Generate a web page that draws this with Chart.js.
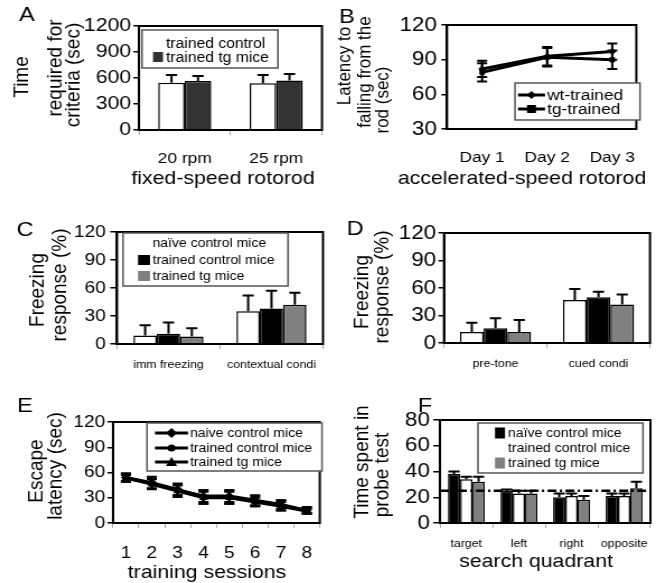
<!DOCTYPE html>
<html>
<head>
<meta charset="utf-8">
<script src="https://cdn.jsdelivr.net/npm/chart.js@4.4.0/dist/chart.umd.min.js"></script>
<style>
  html, body { margin: 0; padding: 0; background: #fff; }
  #fig { position: relative; width: 658px; height: 583px; overflow: hidden; }
  .pn { position: absolute; transform-origin: 0 0; }
  .pn canvas { display: block; }
</style>
</head>
<body>
<div id="fig">
  <div class="pn" id="pA"><canvas></canvas></div>
  <div class="pn" id="pB"><canvas></canvas></div>
  <div class="pn" id="pC"><canvas></canvas></div>
  <div class="pn" id="pD"><canvas></canvas></div>
  <div class="pn" id="pE"><canvas></canvas></div>
  <div class="pn" id="pF"><canvas></canvas></div>
</div>
<script>
// ---- data ----
// A: fixed-speed rotorod
const speeds = ['20 rpm', '25 rpm'];
const fixedControl = [545, 540];
const fixedControlErr = [90, 95];
const fixedTg = [565, 570];
const fixedTgErr = [58, 76];

// B: accelerated-speed rotorod
const days = ['Day 1', 'Day 2', 'Day 3'];
const dayPos = [1, 2, 3];
const accelWt = [82, 93, 97];
const accelWtErr = [7, 8, 7];
const accelTg = [79, 92, 90];
const accelTgErr = [8, 8, 8];

// C: contextual conditioning
const contextCats = ['imm freezing', 'contextual condi'];
const ctxNaive = [9, 35];
const ctxNaiveErr = [11, 17];
const ctxTrained = [11, 38];
const ctxTrainedErr = [12, 19];
const ctxTg = [8, 42];
const ctxTgErr = [9, 13];

// D: cued conditioning
const cuedCats = ['pre-tone', 'cued condi'];
const cuedNaive = [12, 47];
const cuedNaiveErr = [10, 12];
const cuedTrained = [16, 50];
const cuedTrainedErr = [11, 6];
const cuedTg = [12, 42];
const cuedTgErr = [13, 11];

// E: escape latency
const sessions = ['1', '2', '3', '4', '5', '6', '7', '8'];
const escNaive = [54, 48, 40, 31, 31, 26, 21, 15];
const escNaiveErr = [5, 7, 7, 8, 8, 6, 6, 4];
const escTrained = [53, 47, 39, 32, 32, 27, 22, 15];
const escTrainedErr = [4, 6, 6, 7, 7, 6, 5, 3];
const escTg = [54, 46, 38, 30, 30, 25, 20, 14];
const escTgErr = [4, 6, 7, 7, 7, 5, 5, 3];

// F: probe test
const quadrants = ['target', 'left', 'right', 'opposite'];
const probeNaive = [38, 25, 20, 21];
const probeNaiveErr = [2, 1, 3, 2];
const probeTrained = [34, 23, 21, 21];
const probeTrainedErr = [2, 2, 2, 2];
const probeTg = [32, 23, 18, 27];
const probeTgErr = [4, 2, 3, 5];
const chanceLevel = 25;

// ---- setup ----
const FONT = "'Liberation Sans', Arial, Helvetica, sans-serif";
const INK = '#000';
const S = 1.12; // the figure is a bit stretched sideways
Chart.defaults.font.family = FONT;
Chart.defaults.color = INK;
Chart.defaults.animation = false;
Chart.defaults.plugins.legend.display = false;
Chart.defaults.plugins.tooltip.enabled = false;

function marker(ctx, style, x, y, r) {
  ctx.beginPath();
  if (style === 'rect') {
    ctx.rect(x - r, y - r, 2 * r, 2 * r);
  } else if (style === 'rectRot') {
    ctx.moveTo(x, y - r); ctx.lineTo(x + r, y); ctx.lineTo(x, y + r); ctx.lineTo(x - r, y);
    ctx.closePath();
  } else if (style === 'triangle') {
    ctx.moveTo(x, y - r); ctx.lineTo(x + r, y + r * 0.8); ctx.lineTo(x - r, y + r * 0.8);
    ctx.closePath();
  } else {
    ctx.arc(x, y, r, 0, Math.PI * 2);
  }
  ctx.fill();
}

// error bars, frame, boxed legend and loose text
const figExtras = {
  id: 'figExtras',
  afterDatasetsDraw(chart, args, opts) {
    const ctx = chart.ctx;
    const ys = chart.scales.y;
    const area = chart.chartArea;
    if (opts.refLine != null) {
      const py = ys.getPixelForValue(opts.refLine);
      ctx.save();
      ctx.strokeStyle = '#000';
      ctx.lineWidth = 2.5;
      ctx.setLineDash([8, 3, 2, 3]);
      ctx.beginPath(); ctx.moveTo(area.left, py); ctx.lineTo(area.right, py); ctx.stroke();
      ctx.restore();
    }
    chart.data.datasets.forEach((ds, di) => {
      if (!ds.errors) return;
      const meta = chart.getDatasetMeta(di);
      const cap = ds.capWidth || 10;
      ctx.save();
      ctx.strokeStyle = '#000';
      ctx.lineWidth = 2;
      meta.data.forEach((el, i) => {
        const d = ds.data[i];
        const v = typeof d === 'object' ? d.y : d;
        const e = ds.errors[i];
        const top = ys.getPixelForValue(v + e);
        const bot = ds.errorBoth ? ys.getPixelForValue(v - e) : el.y;
        ctx.beginPath();
        ctx.moveTo(el.x, bot); ctx.lineTo(el.x, top);
        ctx.moveTo(el.x - cap / 2, top); ctx.lineTo(el.x + cap / 2, top);
        if (ds.errorBoth) { ctx.moveTo(el.x - cap / 2, bot); ctx.lineTo(el.x + cap / 2, bot); }
        ctx.stroke();
      });
      ctx.restore();
    });
  },
  afterDraw(chart, args, opts) {
    const ctx = chart.ctx;
    const a = chart.chartArea;
    const bx = opts.box;
    const X = v => (v - bx.x) / S;
    const Y = v => v - bx.y;
    ctx.save();
    ctx.strokeStyle = '#000';
    ctx.lineWidth = 2;
    ctx.strokeRect(a.left, a.top, a.right - a.left, a.bottom - a.top);
    const lg = opts.legend;
    if (lg) {
      ctx.fillStyle = '#fff';
      ctx.fillRect(X(lg.box[0]), Y(lg.box[1]), lg.box[2] / S, lg.box[3]);
      ctx.strokeStyle = '#555';
      ctx.lineWidth = 1.5;
      ctx.strokeRect(X(lg.box[0]), Y(lg.box[1]), lg.box[2] / S, lg.box[3]);
      ctx.font = lg.size + 'px ' + FONT;
      ctx.textBaseline = 'middle';
      ctx.textAlign = 'left';
      chart.data.datasets.forEach((ds, i) => {
        const ry = Y(lg.rows[i]);
        if (lg.kind === 'line') {
          ctx.strokeStyle = '#000';
          ctx.lineWidth = 3;
          ctx.beginPath(); ctx.moveTo(X(lg.x1), ry); ctx.lineTo(X(lg.x2), ry); ctx.stroke();
          ctx.fillStyle = '#000';
          marker(ctx, ds.pointStyle, (X(lg.x1) + X(lg.x2)) / 2, ry, ds.pointRadius + 0.5);
        } else {
          ctx.fillStyle = ds.backgroundColor;
          ctx.fillRect(X(lg.sx), ry - lg.sh / 2, lg.sw / S, lg.sh);
        }
        ctx.fillStyle = INK;
        ctx.fillText(ds.label, X(lg.tx), ry + 1);
      });
    }
    (opts.texts || []).forEach(t => {
      ctx.save();
      ctx.font = t.size + 'px ' + FONT;
      ctx.fillStyle = INK;
      ctx.textAlign = 'center';
      ctx.textBaseline = 'middle';
      ctx.translate(X(t.x), Y(t.y));
      if (t.rot) ctx.rotate(-Math.PI / 2);
      ctx.fillText(t.text, 0, 0);
      ctx.restore();
    });
    ctx.restore();
  }
};

function place(id, box) {
  const wrap = document.getElementById(id);
  wrap.style.left = box.x + 'px';
  wrap.style.top = box.y + 'px';
  wrap.style.transform = 'scaleX(' + S + ')';
  const c = wrap.querySelector('canvas');
  c.width = Math.round(box.w / S);
  c.height = box.h;
  return c;
}

function layoutFor(box, plot) {
  const w = Math.round(box.w / S);
  return { padding: { left: 0, bottom: 0, top: plot.t - box.y, right: w - (plot.r - box.x) / S } };
}

function yAxis(min, max, step, box, plot, tl, pad, size) {
  return {
    min: min, max: max,
    ticks: { stepSize: step, autoSkip: false, font: { size: size }, padding: pad, color: INK, callback: v => String(v) },
    grid: { drawOnChartArea: false, drawTicks: true, tickLength: tl, color: '#000', lineWidth: 1.5 },
    border: { color: '#000', width: 2 },
    afterFit: s => { s.width = (plot.l - box.x) / S; }
  };
}

function xCat(box, plot, size, pad) {
  return {
    offset: true,
    ticks: { font: { size: size }, padding: pad, color: INK, maxRotation: 0, autoSkip: false },
    grid: { offset: true, drawOnChartArea: false, tickLength: 5, color: '#aaa', lineWidth: 1 },
    border: { color: '#000', width: 2 },
    afterFit: s => { s.height = box.y + box.h - plot.b; }
  };
}

function bar(label, data, errors, color, catPct) {
  return {
    label: label, data: data, errors: errors,
    backgroundColor: color, borderColor: '#000', borderWidth: 1.5,
    categoryPercentage: catPct, barPercentage: 1, capWidth: 10
  };
}

function line(label, data, errors, style, r) {
  return {
    label: label, data: data, errors: errors, errorBoth: true, capWidth: 9,
    borderColor: '#000', borderWidth: 3, backgroundColor: '#000',
    pointStyle: style, pointRadius: r, pointBorderWidth: 0, pointBackgroundColor: '#000',
    tension: 0
  };
}

// ---- A ----
const boxA = { x: 0, y: 0, w: 329, h: 195 };
const plotA = { l: 139, t: 26, r: 322, b: 130 };
new Chart(place('pA', boxA), {
  type: 'bar',
  data: {
    labels: speeds,
    datasets: [
      bar('trained control', fixedControl, fixedControlErr, '#fff', 0.58),
      bar('trained tg mice', fixedTg, fixedTgErr, '#333', 0.58)
    ]
  },
  options: {
    responsive: false,
    layout: layoutFor(boxA, plotA),
    scales: {
      x: xCat(boxA, plotA, 15.5, 14),
      y: yAxis(0, 1200, 300, boxA, plotA, 5, 2, 19)
    },
    plugins: {
      figExtras: {
        box: boxA,
        legend: { kind: 'bar', box: [142, 30, 136, 38], rows: [43, 57], sx: 153, sw: 10, sh: 10, tx: 166, size: 14 },
        texts: [
          { text: 'A', x: 27, y: 15, size: 21 },
          { text: 'Time', x: 22, y: 77, size: 19, rot: true },
          { text: 'required for', x: 56, y: 68, size: 19, rot: true },
          { text: 'criteria (sec)', x: 74, y: 75, size: 19, rot: true },
          { text: 'fixed-speed rotorod', x: 223, y: 179, size: 19 }
        ]
      }
    }
  },
  plugins: [figExtras]
});

// ---- B ----
const boxB = { x: 329, y: 0, w: 329, h: 195 };
const plotB = { l: 447, t: 25, r: 642, b: 129 };
new Chart(place('pB', boxB), {
  type: 'line',
  data: {
    datasets: [
      line('wt-trained', dayPos.map((d, i) => ({ x: d, y: accelWt[i] })), accelWtErr, 'rectRot', 3.5),
      line('tg-trained', dayPos.map((d, i) => ({ x: d, y: accelTg[i] })), accelTgErr, 'rect', 3.5)
    ]
  },
  options: {
    responsive: false,
    layout: layoutFor(boxB, plotB),
    scales: {
      x: {
        type: 'linear', min: 0.46, max: 3.37,
        afterBuildTicks: s => { s.ticks = dayPos.map(v => ({ value: v })); },
        ticks: { font: { size: 15.5 }, padding: 19, color: INK, callback: v => days[dayPos.indexOf(v)] },
        grid: { drawOnChartArea: false, drawTicks: false },
        border: { color: '#000', width: 2 },
        afterFit: s => { s.height = boxB.y + boxB.h - plotB.b; }
      },
      y: yAxis(30, 120, 30, boxB, plotB, 5, 4, 20)
    },
    plugins: {
      figExtras: {
        box: boxB,
        legend: { kind: 'line', box: [515, 83, 125, 37], rows: [95, 109], x1: 518, x2: 545, tx: 547, size: 15.5 },
        texts: [
          { text: 'B', x: 347, y: 17, size: 21 },
          { text: 'Latency to', x: 345, y: 66, size: 17, rot: true },
          { text: 'falling from the', x: 365, y: 72, size: 17, rot: true },
          { text: 'rod (sec)', x: 383, y: 100, size: 17, rot: true },
          { text: 'accelerated-speed rotorod', x: 522, y: 179, size: 19 }
        ]
      }
    }
  },
  plugins: [figExtras]
});

// ---- C ----
const boxC = { x: 0, y: 195, w: 329, h: 188 };
const plotC = { l: 117, t: 232, r: 323, b: 344 };
new Chart(place('pC', boxC), {
  type: 'bar',
  data: {
    labels: contextCats,
    datasets: [
      bar('naïve control mice', ctxNaive, ctxNaiveErr, '#fff', 0.68),
      bar('trained control mice', ctxTrained, ctxTrainedErr, '#000', 0.68),
      bar('trained tg mice', ctxTg, ctxTgErr, '#808080', 0.68)
    ]
  },
  options: {
    responsive: false,
    layout: layoutFor(boxC, plotC),
    scales: {
      x: xCat(boxC, plotC, 11, 9),
      y: yAxis(0, 120, 30, boxC, plotC, 6, 4, 17)
    },
    plugins: {
      figExtras: {
        box: boxC,
        legend: { kind: 'bar', box: [123, 233, 165, 53], rows: [243, 260, 276], sx: 138, sw: 12, sh: 10, tx: 152.5, size: 12.5 },
        texts: [
          { text: 'C', x: 25, y: 230, size: 21 },
          { text: 'Freezing', x: 38, y: 290, size: 19, rot: true },
          { text: 'response (%)', x: 60, y: 285, size: 19, rot: true }
        ]
      }
    }
  },
  plugins: [figExtras]
});

// ---- D ----
const boxD = { x: 329, y: 195, w: 329, h: 188 };
const plotD = { l: 444, t: 233, r: 650, b: 343 };
new Chart(place('pD', boxD), {
  type: 'bar',
  data: {
    labels: cuedCats,
    datasets: [
      bar('naïve control mice', cuedNaive, cuedNaiveErr, '#fff', 0.69),
      bar('trained control mice', cuedTrained, cuedTrainedErr, '#000', 0.69),
      bar('trained tg mice', cuedTg, cuedTgErr, '#808080', 0.69)
    ]
  },
  options: {
    responsive: false,
    layout: layoutFor(boxD, plotD),
    scales: {
      x: xCat(boxD, plotD, 11, 9),
      y: yAxis(0, 120, 30, boxD, plotD, 5, 2, 20)
    },
    plugins: {
      figExtras: {
        box: boxD,
        texts: [
          { text: 'D', x: 355, y: 229, size: 21 },
          { text: 'Freezing', x: 362, y: 292, size: 19, rot: true },
          { text: 'response (%)', x: 382, y: 287, size: 19, rot: true }
        ]
      }
    }
  },
  plugins: [figExtras]
});

// ---- E ----
const boxE = { x: 0, y: 383, w: 329, h: 200 };
const plotE = { l: 113, t: 422, r: 327, b: 523 };
new Chart(place('pE', boxE), {
  type: 'line',
  data: {
    labels: sessions,
    datasets: [
      line('naive control mice', escNaive, escNaiveErr, 'rectRot', 4.5),
      line('trained control mice', escTrained, escTrainedErr, 'circle', 3),
      line('trained tg mice', escTg, escTgErr, 'triangle', 4.5)
    ]
  },
  options: {
    responsive: false,
    layout: layoutFor(boxE, plotE),
    scales: {
      x: xCat(boxE, plotE, 17, 15),
      y: yAxis(0, 120, 30, boxE, plotE, 5, 2, 17)
    },
    plugins: {
      figExtras: {
        box: boxE,
        legend: { kind: 'line', box: [147, 423, 175, 48], rows: [433, 448, 462], x1: 155, x2: 188, tx: 190, size: 12.5 },
        texts: [
          { text: 'E', x: 25, y: 406, size: 21 },
          { text: 'Escape', x: 37, y: 471, size: 19, rot: true },
          { text: 'latency (sec)', x: 56, y: 466, size: 19, rot: true },
          { text: 'training sessions', x: 207, y: 573, size: 19 }
        ]
      }
    }
  },
  plugins: [figExtras]
});

// ---- F ----
const boxF = { x: 329, y: 383, w: 329, h: 200 };
const plotF = { l: 440, t: 420, r: 652, b: 523 };
new Chart(place('pF', boxF), {
  type: 'bar',
  data: {
    labels: quadrants,
    datasets: [
      bar('naïve control mice', probeNaive, probeNaiveErr, '#000', 0.7),
      bar('trained control mice', probeTrained, probeTrainedErr, '#fff', 0.7),
      bar('trained tg mice', probeTg, probeTgErr, '#808080', 0.7)
    ]
  },
  options: {
    responsive: false,
    layout: layoutFor(boxF, plotF),
    scales: {
      x: xCat(boxF, plotF, 11, 9),
      y: yAxis(0, 80, 20, boxF, plotF, 6, 3, 20)
    },
    plugins: {
      figExtras: {
        box: boxF,
        refLine: chanceLevel,
        legend: { kind: 'bar', box: [478, 423, 165, 50], rows: [433, 448, 463], sx: 495, sw: 10, sh: 11, tx: 508, size: 12.5 },
        texts: [
          { text: 'F', x: 425, y: 406, size: 21 },
          { text: 'Time spent in', x: 362, y: 462, size: 19, rot: true },
          { text: 'probe test', x: 383, y: 475, size: 19, rot: true },
          { text: 'search quadrant', x: 536, y: 562, size: 19 }
        ]
      }
    }
  },
  plugins: [figExtras]
});
</script>
</body>
</html>
